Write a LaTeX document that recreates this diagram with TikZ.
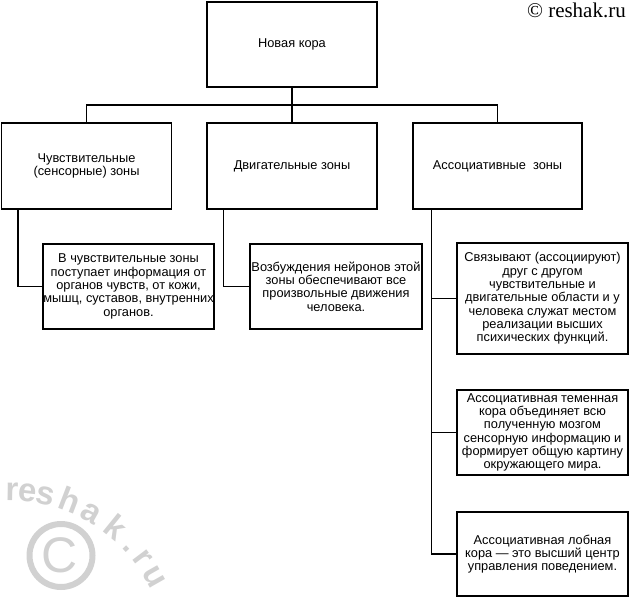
\documentclass[tikz,border=0pt]{standalone}
\usepackage{fontspec}
\setmainfont{Liberation Sans}
\newfontfamily\serifwm{Liberation Serif}
\newcommand\wmfont{\fontsize{33}{33}\selectfont\bfseries}
\begin{document}
\begin{tikzpicture}[x=1pt,y=-1pt,
  box/.style={draw=black, line width=1.4pt, inner sep=0pt, align=center,
    font=\fontsize{12.8}{13.3}\selectfont, text=black},
  conn/.style={draw=black, line width=1.4pt},
  wm/.style={black!18},
  wmletter/.style={text=black!18, font=\wmfont, inner sep=0pt, anchor=base}
]
\useasboundingbox (0,0) rectangle (629,598);
% watermark
\coordinate (wmo) at (9,659);
\foreach \ch/\a [count=\i] in {r/-89, e/-83.5, s/-77.5, h/-69, a/-60.5, k/-51, ./-43, r/-37, u/-29.5}
  \node[wmletter, rotate=-\a-90] (wm\i) at ([shift={(\a:158)}]wmo) {\ch};
\fill[wm, even odd rule] (61,555.5) circle[radius=34.5] (61,555.5) circle[radius=28.5];
\node[text=black!18, font=\fontsize{50}{50}\selectfont, inner sep=0pt] (wmc) at (59.5,555) {C};
% copyright
\node[anchor=base east, font=\serifwm\fontsize{21}{21}\selectfont, inner sep=0pt] (cr) at (626,17) {© reshak.ru};
% boxes
\node[box, minimum width=170pt, minimum height=85pt] (top) at (292,44.5) {Новая кора};
\node[box, minimum width=170pt, minimum height=86pt] (b1) at (86.5,166) {Чувствительные\\(сенсорные) зоны};
\node[box, minimum width=170pt, minimum height=86pt] (b2) at (292,166) {Двигательные зоны};
\node[box, minimum width=169pt, minimum height=86pt] (b3) at (497.5,166) {Ассоциативные\ \ зоны};
\node[box, minimum width=171pt, minimum height=85pt] (d1) at (128.5,286.5) {В чувствительные зоны\\поступает информация от\\органов чувств, от кожи,\\мышц, суставов, внутренних\\органов.};
\node[box, minimum width=172pt, minimum height=85pt] (d2) at (336,286.5) {Возбуждения нейронов этой\\зоны обеспечивают все\\произвольные движения\\человека.};
\node[box, minimum width=171pt, minimum height=111pt] (dA) at (542.5,298.5) {Связывают (ассоциируют)\\друг с другом\\чувствительные и\\двигательные области и у\\человека служат местом\\реализации высших\\психических функций.};
\node[box, minimum width=171pt, minimum height=85pt] (dB) at (542.5,432.5) {Ассоциативная теменная\\кора объединяет всю\\полученную мозгом\\сенсорную информацию и\\формирует общую картину\\окружающего мира.};
\node[box, minimum width=171pt, minimum height=84pt] (dC) at (542.5,554) {Ассоциативная лобная\\кора — это высший центр\\управления поведением.};
% connectors
\coordinate (bar) at (0,105);
\draw[conn] (top.south) -- (b2.north);
\draw[conn] (b1.north) -- (b1.north |- bar) -- (b3.north |- bar) -- (b3.north);
\draw[conn] ([xshift=17pt]b1.south west) |- (d1.west);
\draw[conn] ([xshift=17pt]b2.south west) |- (d2.west);
\coordinate (sp) at ([xshift=19pt]b3.south west);
\draw[conn] (sp) |- (dC.west);
\draw[conn] (dA.west -| sp) -- (dA.west);
\draw[conn] (dB.west -| sp) -- (dB.west);
\end{tikzpicture}
\end{document}
